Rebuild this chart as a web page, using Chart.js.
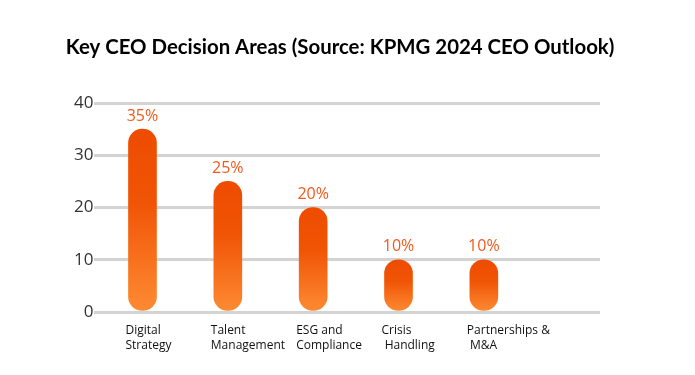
<!DOCTYPE html>
<html>
<head>
<meta charset="utf-8">
<script src="https://cdn.jsdelivr.net/npm/chart.js@4"></script>
<style>
  html, body { margin: 0; padding: 0; background: #fff; }
  #wrap { width: 695px; height: 375px; position: relative; }
</style>
</head>
<body>
<div id="wrap"><canvas id="ceoChart"></canvas></div>
<script>
// Data
const chartTitle = "Key CEO Decision Areas (Source: KPMG 2024 CEO Outlook)";
const categories = [
    ["Digital", "Strategy"],
    ["Talent", "Management"],
    ["ESG and", "Compliance"],
    ["Crisis", " Handling"],
    ["Partnerships &", " M&A"]
];
const shares = [35, 25, 20, 10, 10];
const yTicks = [0, 10, 20, 30, 40];

const labelColor = "#f05a1e";

// vertical gradient per bar: dark orange on top, lighter at the foot
function barGradient(context) {
    const chart = context.chart;
    const area = chart.chartArea;
    if (!area || context.dataIndex === undefined) return "#f05000";
    const y = chart.scales.y;
    const top = y.getPixelForValue(shares[context.dataIndex]);
    const bottom = y.getPixelForValue(0);
    const g = chart.ctx.createLinearGradient(0, top, 0, bottom);
    g.addColorStop(0, "#ee4c00");
    g.addColorStop(0.4, "#f05405");
    g.addColorStop(1, "#fe8b33");
    return g;
}

// title drawn by hand so the wide right margin does not squeeze it
const titleText = {
    id: "titleText",
    afterDraw: function(chart) {
        const ctx = chart.ctx;
        ctx.save();
        ctx.fillStyle = "#000";
        ctx.font = "bold 20.4px Lato, sans-serif";
        ctx.textAlign = "center";
        ctx.textBaseline = "middle";
        ctx.fillText(chartTitle, 340, 47);
        ctx.restore();
    }
};

const valueLabels = {
    id: "valueLabels",
    afterDatasetsDraw: function(chart) {
        const ctx = chart.ctx;
        const meta = chart.getDatasetMeta(0);
        ctx.save();
        ctx.fillStyle = labelColor;
        ctx.font = "16px 'Open Sans', sans-serif";
        ctx.textAlign = "center";
        ctx.textBaseline = "middle";
        meta.data.forEach(function(bar, i) {
            ctx.fillText(shares[i] + "%", bar.x, bar.y - 13);
        });
        ctx.restore();
    }
};

const ctx = document.getElementById("ceoChart").getContext("2d");

new Chart(ctx, {
    type: "bar",
    data: {
        datasets: [{
            data: shares.map(function(v, i) { return { x: i, y: v }; }),
            backgroundColor: barGradient,
            borderSkipped: false,
            borderRadius: 14,
            barThickness: 28
        }]
    },
    options: {
        responsive: true,
        maintainAspectRatio: false,
        animation: false,
        layout: {
            padding: { left: 73, right: 95, top: 103, bottom: 19 }
        },
        scales: {
            x: {
                type: "linear",
                offset: false,
                min: -0.563,
                max: 5.361,
                afterBuildTicks: function(axis) {
                    axis.ticks = categories.map(function(c, i) { return { value: i }; });
                },
                ticks: {
                    autoSkip: false,
                    maxRotation: 0,
                    align: "start",
                    labelOffset: -17,
                    padding: 3,
                    color: "#111",
                    font: { family: "'Open Sans', sans-serif", size: 12, lineHeight: 1.25 },
                    callback: function(value) { return categories[value]; }
                },
                grid: { display: false },
                border: { display: false }
            },
            y: {
                min: 0,
                max: 40,
                afterBuildTicks: function(axis) {
                    axis.ticks = yTicks.map(function(v) { return { value: v }; });
                },
                ticks: {
                    color: "#333",
                    padding: 1,
                    font: { family: "'Open Sans', sans-serif", size: 17 }
                },
                grid: {
                    color: "#d3d3d3",
                    lineWidth: 3,
                    drawTicks: false
                },
                border: { display: false }
            }
        },
        plugins: {
            legend: { display: false },
            tooltip: { enabled: false },
            title: { display: false }
        }
    },
    plugins: [valueLabels, titleText]
});
</script>
</body>
</html>
